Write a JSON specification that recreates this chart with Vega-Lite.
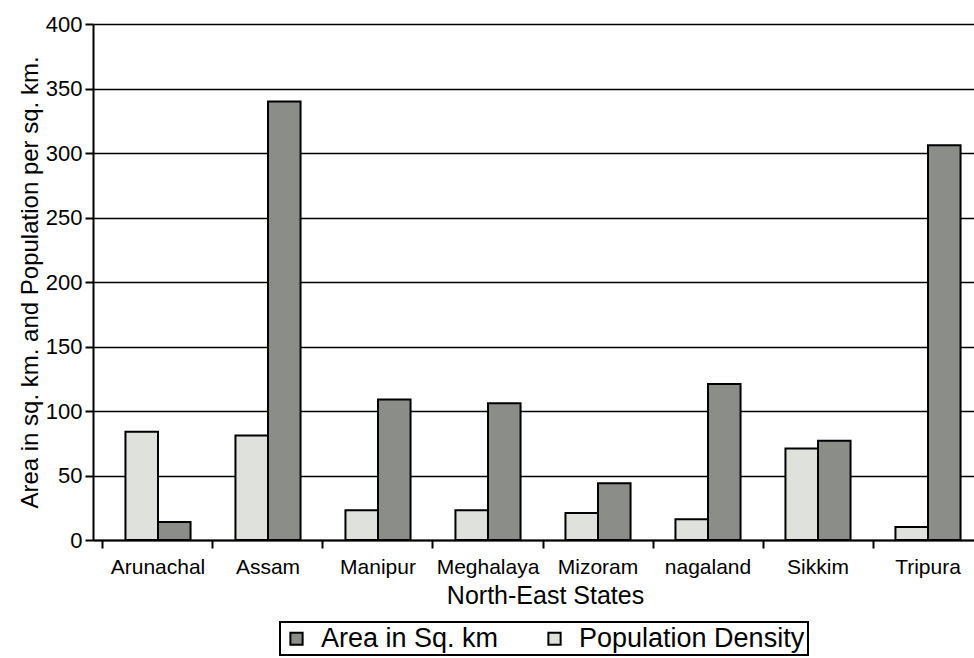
{
  "$schema": "https://vega.github.io/schema/vega-lite/v6.json",
  "autosize": {"type": "none"},
  "padding": {"left": 93, "top": 24, "right": 0, "bottom": 118},
  "width": 881,
  "height": 516,
  "background": "white",
  "config": {
    "view": {"stroke": null},
    "font": "Liberation Sans",
    "axis": {"labelFont": "Liberation Sans", "titleFont": "Liberation Sans", "labelColor": "black", "titleColor": "black", "titleFontWeight": "normal"},
    "legend": {"labelFont": "Liberation Sans", "labelColor": "black", "strokeColor": "black", "strokeWidth": 2}
  },
  "data": {
    "values": [
      {"state": "Arunachal", "series": "Population Density", "value": 84},
      {"state": "Arunachal", "series": "Area in Sq. km", "value": 14},
      {"state": "Assam", "series": "Population Density", "value": 81},
      {"state": "Assam", "series": "Area in Sq. km", "value": 340},
      {"state": "Manipur", "series": "Population Density", "value": 23},
      {"state": "Manipur", "series": "Area in Sq. km", "value": 109},
      {"state": "Meghalaya", "series": "Population Density", "value": 23},
      {"state": "Meghalaya", "series": "Area in Sq. km", "value": 106},
      {"state": "Mizoram", "series": "Population Density", "value": 21},
      {"state": "Mizoram", "series": "Area in Sq. km", "value": 44},
      {"state": "nagaland", "series": "Population Density", "value": 16},
      {"state": "nagaland", "series": "Area in Sq. km", "value": 121},
      {"state": "Sikkim", "series": "Population Density", "value": 71},
      {"state": "Sikkim", "series": "Area in Sq. km", "value": 77},
      {"state": "Tripura", "series": "Population Density", "value": 10},
      {"state": "Tripura", "series": "Area in Sq. km", "value": 306}
    ]
  },
  "mark": {"type": "bar", "stroke": "black", "strokeWidth": 2},
  "encoding": {
    "x": {
      "field": "state",
      "type": "nominal",
      "sort": null,
      "scale": {"range": [0, 900], "paddingInner": 0, "paddingOuter": 0.0909, "align": 0.5},
      "axis": {
        "title": "North-East States",
        "titleFontSize": 25,
        "titlePadding": 6,
        "titleX": 452,
        "labelAngle": 0,
        "labelFontSize": 21,
        "labelPadding": 8,
        "labelLimit": 200,
        "labelOverlap": false,
        "domainColor": "black",
        "domainWidth": 2,
        "tickColor": "black",
        "tickWidth": 2,
        "tickSize": 8,
        "bandPosition": 0
      }
    },
    "xOffset": {
      "field": "series",
      "type": "nominal",
      "sort": ["Population Density", "Area in Sq. km"],
      "scale": {"paddingInner": 0, "paddingOuter": 0.69}
    },
    "y": {
      "field": "value",
      "type": "quantitative",
      "scale": {"domain": [0, 400], "nice": false},
      "axis": {
        "title": "Area in sq. km. and Population per sq. km.",
        "titleFontSize": 24,
        "titlePadding": 3,
        "values": [0, 50, 100, 150, 200, 250, 300, 350, 400],
        "labelFontSize": 22,
        "labelPadding": 3,
        "domainColor": "black",
        "domainWidth": 2,
        "tickColor": "black",
        "tickWidth": 2,
        "tickSize": 8,
        "grid": true,
        "gridColor": "black",
        "gridWidth": 1.6,
        "gridOpacity": 1
      }
    },
    "color": {
      "field": "series",
      "type": "nominal",
      "scale": {"domain": ["Area in Sq. km", "Population Density"], "range": ["#8b8d89", "#dfe1dd"]},
      "legend": {
        "title": null,
        "orient": "none",
        "direction": "horizontal",
        "legendX": 187,
        "legendY": 598,
        "labelFontSize": 27,
        "labelLimit": 400,
        "symbolType": "square",
        "symbolSize": 150,
        "symbolStrokeColor": "black",
        "symbolStrokeWidth": 2,
        "symbolOpacity": 1,
        "columnPadding": 42,
        "labelOffset": 11,
        "padding": 3
      }
    }
  }
}
